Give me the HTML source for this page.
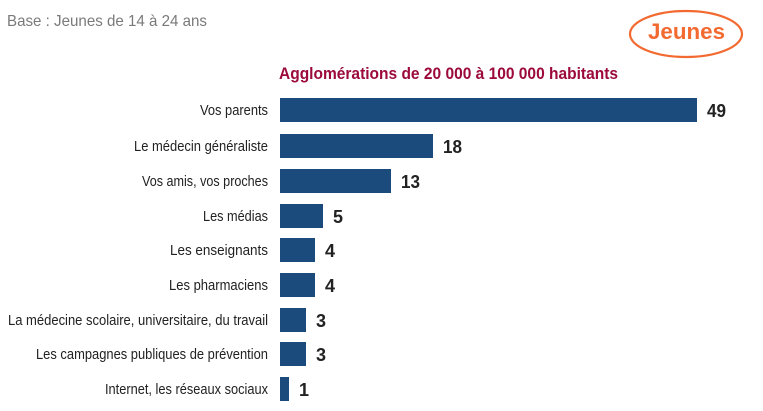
<!DOCTYPE html>
<html><head><meta charset="utf-8"><style>
html,body{margin:0;padding:0;background:#fff;}
svg{display:block;font-family:"Liberation Sans Narrow","Liberation Sans",sans-serif;}
</style></head><body>
<svg width="763" height="411" viewBox="0 0 763 411">
<text x="7" y="26" font-size="16" fill="#7a7a7a" textLength="200" lengthAdjust="spacingAndGlyphs">Base : Jeunes de 14 à 24 ans</text>
<ellipse cx="686" cy="34" rx="56" ry="23" fill="none" stroke="#f26a30" stroke-width="2.2"/>
<text x="648" y="39" font-size="22" font-weight="bold" fill="#f26a30" textLength="77" lengthAdjust="spacingAndGlyphs">Jeunes</text>
<text x="279" y="79" font-size="17" font-weight="bold" fill="#9b0a3a" textLength="339" lengthAdjust="spacingAndGlyphs">Agglomérations de 20 000 à 100 000 habitants</text>
<g fill="#1b4a7c">
<rect x="280" y="98" width="417" height="24"/>
<rect x="280" y="134" width="153" height="24"/>
<rect x="280" y="169" width="111" height="24"/>
<rect x="280" y="204" width="43" height="24"/>
<rect x="280" y="238" width="35" height="24"/>
<rect x="280" y="273" width="35" height="24"/>
<rect x="280" y="308" width="26" height="24"/>
<rect x="280" y="342" width="26" height="24"/>
<rect x="280" y="377" width="9" height="24"/>
</g>
<g font-size="14.5" fill="#222" text-anchor="end">
<text x="268" y="115" textLength="68" lengthAdjust="spacingAndGlyphs">Vos parents</text>
<text x="268" y="151" textLength="134" lengthAdjust="spacingAndGlyphs">Le médecin généraliste</text>
<text x="268" y="186" textLength="126" lengthAdjust="spacingAndGlyphs">Vos amis, vos proches</text>
<text x="268" y="221" textLength="65" lengthAdjust="spacingAndGlyphs">Les médias</text>
<text x="268" y="255" textLength="98" lengthAdjust="spacingAndGlyphs">Les enseignants</text>
<text x="268" y="290" textLength="99" lengthAdjust="spacingAndGlyphs">Les pharmaciens</text>
<text x="268" y="325" textLength="260" lengthAdjust="spacingAndGlyphs">La médecine scolaire, universitaire, du travail</text>
<text x="268" y="359" textLength="232" lengthAdjust="spacingAndGlyphs">Les campagnes publiques de prévention</text>
<text x="268" y="394" textLength="163" lengthAdjust="spacingAndGlyphs">Internet, les réseaux sociaux</text>
</g>
<g font-size="18" font-weight="bold" fill="#222">
<text x="707" y="117" textLength="19" lengthAdjust="spacingAndGlyphs">49</text>
<text x="443" y="153" textLength="19" lengthAdjust="spacingAndGlyphs">18</text>
<text x="401" y="188" textLength="19" lengthAdjust="spacingAndGlyphs">13</text>
<text x="333" y="223">5</text>
<text x="325" y="257">4</text>
<text x="325" y="292">4</text>
<text x="316" y="327">3</text>
<text x="316" y="361">3</text>
<text x="299" y="396">1</text>
</g>
</svg>
</body></html>
